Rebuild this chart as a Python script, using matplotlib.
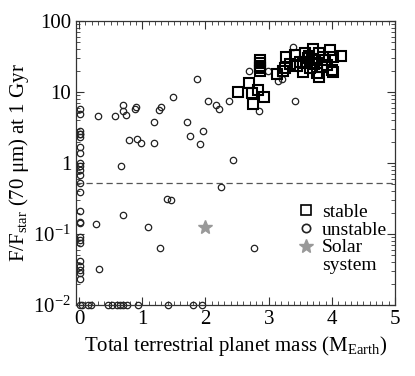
import matplotlib
matplotlib.use("Agg")
import matplotlib.pyplot as plt
from matplotlib.lines import Line2D
from matplotlib.ticker import FixedLocator, FixedFormatter, MultipleLocator, LogLocator, NullFormatter

plt.rcParams["font.family"] = ["Liberation Serif", "DejaVu Serif"]
plt.rcParams["mathtext.fontset"] = "custom"
plt.rcParams["mathtext.rm"] = "Liberation Serif"
plt.rcParams["mathtext.it"] = "Liberation Serif:italic"

# stable systems (squares)
stable_mass = [2.52, 2.69, 2.74, 2.75, 2.83, 2.93,
               2.86, 2.86, 2.86, 2.86, 2.86,
               3.13, 3.23, 3.26, 3.27, 3.42, 3.58, 3.70, 3.54, 3.54,
               3.62, 3.69, 3.77, 3.80, 3.86, 3.77, 3.80, 3.97, 4.02, 4.15,
               4.00, 4.02, 3.92, 3.84, 3.66, 3.50, 3.59, 3.34, 3.45, 3.72,
               3.89, 3.64]
stable_flux = [10.0, 13.4, 9.7, 6.8, 10.6, 8.5,
               19.5, 21.5, 23.5, 26.0, 28.0,
               17.9, 19.8, 21.8, 31.0, 33.0, 35.4, 40.0, 25.6, 19.1,
               30.0, 28.0, 25.6, 35.4, 31.0, 18.5, 16.2, 39.0, 31.0, 32.0,
               20.4, 19.1, 24.0, 22.5, 21.8, 26.5, 26.5, 24.8, 23.2, 24.8,
               28.2, 32.0]

# unstable systems (circles)
col_flux = [5.8, 4.9, 2.8, 2.6, 2.56, 2.3, 1.68, 1.38, 1.0, 0.91, 0.80, 0.68,
            0.52, 0.39, 0.21, 0.148, 0.143, 0.091, 0.083, 0.075, 0.042, 0.035,
            0.031, 0.028, 0.023, 0.01]
unstable_mass = [0.02] * len(col_flux) + [
    0.30, 0.57, 0.70, 0.69, 0.74, 0.90, 0.88, 0.79, 0.91, 0.98, 0.66,
    1.19, 1.19, 1.30, 1.27, 1.49, 1.71, 1.76, 1.91, 1.96, 1.87, 2.04,
    2.17, 2.22, 2.37, 2.44, 2.25, 1.39, 1.45, 0.70, 0.27, 1.09, 1.28,
    0.31, 2.77, 2.69, 2.99, 2.85, 3.39, 3.42, 3.15, 3.21,
    0.05, 0.14, 0.19, 0.46, 0.52, 0.60, 0.65, 0.70, 0.76, 0.93, 1.41,
    1.80, 1.95]
unstable_flux = col_flux + [
    4.6, 4.6, 6.6, 5.4, 4.7, 6.2, 5.8, 2.1, 2.2, 1.9, 0.91,
    3.8, 1.9, 6.2, 5.6, 8.5, 3.8, 2.4, 1.85, 2.8, 15.2, 7.5,
    6.6, 5.8, 7.5, 1.1, 0.46, 0.31, 0.30, 0.185, 0.138, 0.126, 0.063,
    0.032, 0.063, 19.8, 19.8, 5.4, 43.0, 7.5, 14.3, 15.2,
    0.01, 0.01, 0.01, 0.01, 0.01, 0.01, 0.01, 0.01, 0.01, 0.01, 0.01,
    0.01, 0.01]

solar_mass = [1.99]
solar_flux = [0.126]

threshold = 0.53

yticks = [0.01, 0.1, 1, 10, 100]
ytick_labels = ["10$^{-2}$", "10$^{-1}$", "1", "10", "100"]

fig = plt.figure(figsize=(4.15, 3.76), dpi=100)
ax = fig.add_axes([0.183, 0.189, 0.769, 0.755])

ax.axhline(threshold, color="#555555", lw=0.9, ls=(0, (5, 3)))
ax.plot(unstable_mass, unstable_flux, "o", ms=4.6, mfc="none", mec="#222222",
        mew=0.9, label="unstable", clip_on=False)
ax.plot(stable_mass, stable_flux, "s", ms=7.5, mfc="none", mec="black",
        mew=1.5, label="stable")
ax.plot(solar_mass, solar_flux, "*", ms=10, color="#999999", mec="#999999",
        label="Solar")

ax.set_yscale("log")
ax.set_xlim(-0.05, 5)
ax.set_ylim(0.01, 100)

ax.xaxis.set_major_locator(MultipleLocator(1))
ax.xaxis.set_minor_locator(MultipleLocator(0.1))
ax.yaxis.set_major_locator(FixedLocator(yticks))
ax.yaxis.set_major_formatter(FixedFormatter(ytick_labels))
ax.yaxis.set_minor_locator(LogLocator(base=10, subs=range(2, 10)))
ax.yaxis.set_minor_formatter(NullFormatter())
ax.tick_params(which="both", direction="in", top=True, right=True,
               labelsize=15, color="#333333")
ax.tick_params(which="major", length=6, width=0.8)
ax.tick_params(which="minor", length=3, width=0.6)
for s in ax.spines.values():
    s.set_color("#333333")
    s.set_linewidth(0.9)

ax.set_xlabel("Total terrestrial planet mass (M$_{\\rm Earth}$)", fontsize=15)
ax.set_ylabel("F/F$_{\\rm star}$ (70 μm) at 1 Gyr", fontsize=15, labelpad=2)

# legend: second line of "Solar system" as an entry with no marker
handles, labels = ax.get_legend_handles_labels()
order = [labels.index(n) for n in ["stable", "unstable", "Solar"]]
handles = [handles[i] for i in order] + [Line2D([], [], ls="none")]
labels = [labels[i] for i in order] + ["system"]
leg = ax.legend(handles, labels,
                loc="upper left", bbox_to_anchor=(0.655, 0.405), frameon=False,
                fontsize=14, handlelength=0.8, handletextpad=0.4,
                labelspacing=0.0, borderpad=0.2)
for h, ms, mew in zip(leg.legend_handles[:3], [6.5, 6, 10], [1.2, 1.2, 1]):
    h.set_markersize(ms)
    h.set_markeredgewidth(mew)

fig.savefig("out.png", dpi=100)
